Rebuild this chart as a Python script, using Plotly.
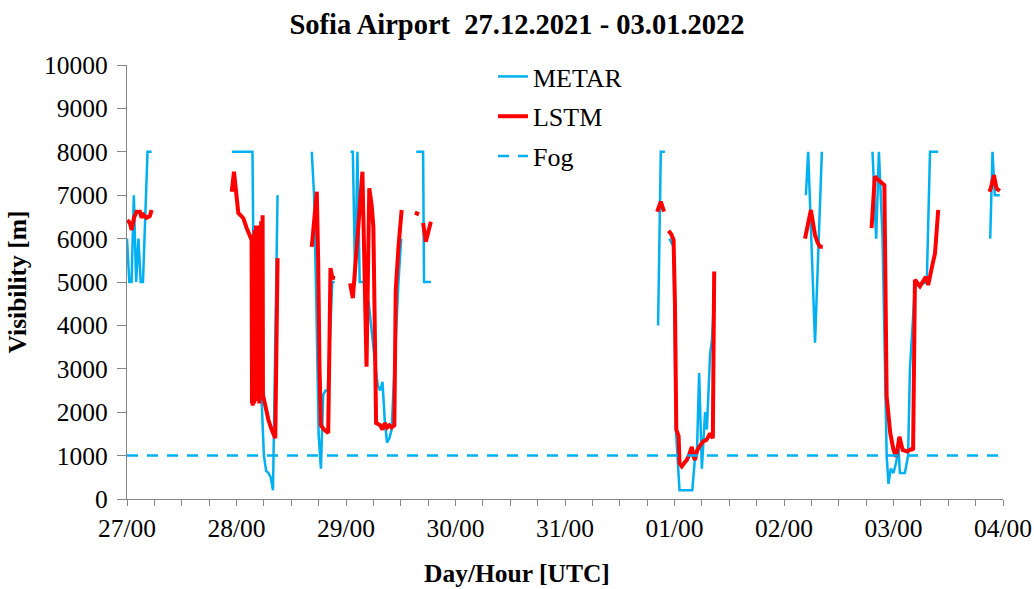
import plotly.graph_objects as go

# Time axis: hours since 27.12.2021 00 UTC
day_labels = ["27/00", "28/00", "29/00", "30/00", "31/00", "01/00", "02/00", "03/00", "04/00"]
day_ticks = [0, 24, 48, 72, 96, 120, 144, 168, 192]

# METAR observed visibility (m); None separates gaps in the record
metar_h = [
    0, 0.5, 1, 1.5, 2, 2.5, 3, 3.5, 4.5, 5.4, None,
    23, 27.5, 28, 29, 29.5, 30, 30.5, 31, 31.5, 32, 33, None,
    40.5, 41, 41.5, 42, 42.5, 43, 43.5, 44, 45, 45.5, None,
    49, 49.5, 50, 50.5, 51, 51.5, 52, 53, 53.5, 54, 54.5, 55, 55.5, 56, 56.5, 57, 57.5, 58, 59.5, 60.1, None,
    63.4, 64.9, 65.1, 66.6, None,
    116.4, 117, 117.9, None,
    118.9, 119.8, 120.3, 121.1, 123.9, 124.5, 124.9, 125.4, 126, 126.7, 127.1, 127.8, 128.2, 128.6, None,
    148.8, 149.3, 150.8, 152.3, None,
    163.4, 164.2, 164.8, 165.6, 166.5, 166.9, 167.4, 168, 168.6, 169.1, 169.4, 169.8, 170.5, 171.2, 171.6, 172.7, 175.3, 176, 177.8, None,
    189.2, 189.7, 190.2, 191.3,
]
metar_vis = [
    6000, 5000, 5000, 7000, 5000, 6000, 5000, 5000, 8000, 8000, None,
    8000, 8000, 2500, 2500, 2300, 1000, 650, 600, 500, 200, 7000, None,
    8000, 7000, 4500, 1500, 700, 2400, 2500, 2500, 5000, 5000, None,
    8000, 8000, 5000, 8000, 5000, 5000, 5000, 4500, 4000, 3500, 3000, 2600, 2500, 2700, 1800, 1300, 1400, 1600, 5000, 6000, None,
    8000, 8000, 5000, 5000, None,
    4000, 8000, 8000, None,
    6000, 5800, 1600, 200, 200, 950, 1000, 2900, 700, 2000, 1600, 3350, 3650, 4500, None,
    7000, 8000, 3600, 8000, None,
    8000, 6000, 8000, 6000, 1000, 350, 700, 600, 850, 1200, 600, 600, 600, 1000, 3000, 4900, 5000, 8000, 8000, None,
    6000, 8000, 7000, 7000,
]

# LSTM predicted visibility (m)
lstm_h = [
    0.07, 0.66, 1.03, 1.53, 2.1, 2.83, 3.2, 3.6, 4.3, 5.0, 5.4, None,
    22.95, 23.45, 24.4, 25.5, 26.2, 27.3,
    27.40, 27.48, 27.56, 27.64, 27.72, 27.80, 27.88, 27.96, 28.04, 28.12, 28.20,
    28.28, 28.36, 28.44, 28.52, 28.60, 28.68, 28.76, 28.84, 28.92, 29.00,
    29.08, 29.16, 29.24, 29.32, 29.40, 29.48, 29.56, 29.64, 29.72, 29.80,
    31.0, 31.7, 32.5, 33.0, None,
    40.5, 41.6, 41.9, 42.2, 42.5, 43.2, 44.1, 44.6, 45.0, 45.6, None,
    48.9, 49.5, 50.5, 51.6, 52.5, 53.1, 53.6, 54.0, 54.6, 55.5, 56.0, 56.5, 57.0, 57.5, 58.0, 58.6, 58.9, 59.5, 60.2, None,
    63.1, 64.0, None,
    64.9, 65.5, 66.6, None,
    116.2, 117.0, 117.7, None,
    118.7, 119.3, 119.8, 120.1, 120.4, 120.9, 121.1, 121.6, 122.3, 122.7, 123.3, 123.8, 124.1, 124.5, 124.9, 125.4, 126.3, 127.0, 127.8, 128.4, 128.7, None,
    148.6, 149.0, 149.9, 150.3, 150.8, 151.4, 151.9, 152.5, None,
    163.2, 163.9, 164.7, 166.0, 166.5, 167.3, 168.0, 168.6, 169.3, 170.0, 170.9, 172.0, 172.3, 172.7, 173.8, 175.1, 175.6, 176.6, 177.1, 177.8, None,
    189.0, 189.3, 190.0, 190.6, 191.3,
]
lstm_vis = [
    6430, 6350, 6200, 6480, 6620, 6620, 6480, 6550, 6480, 6520, 6660, None,
    7080, 7540, 6590, 6470, 6250, 5970,
    2200, 5900, 2150, 6000, 2300, 6100, 2200, 6200, 2400, 6000, 2250,
    6300, 2500, 5800, 2300, 6100, 2600, 5700, 2400, 6200, 2200,
    6300, 2500, 5900, 2300, 6400, 2600, 6000, 2400, 6540, 2400,
    1820, 1600, 1400, 5550, None,
    5810, 7080, 5500, 3000, 1700, 1600, 1520, 5320, 5100, 5090, None,
    4970, 4630, 6000, 7540, 3050, 7160, 6800, 6270, 1750, 1700, 1600, 1750, 1650, 1700, 1650, 1700, 4800, 5810, 6660, None,
    6600, 6560, None,
    6360, 5930, 6390, None,
    6620, 6850, 6620, None,
    6180, 6100, 5970, 4500, 1600, 1450, 820, 750, 850, 900, 1050, 1200, 1000, 900, 1100, 1200, 1330, 1360, 1510, 1400, 5240, None,
    6000, 6200, 6660, 6400, 6080, 5900, 5810, 5810, None,
    6240, 7430, 7350, 7230, 2360, 1510, 1130, 975, 1435, 1130, 1100, 1150, 1130, 5050, 4900, 5120, 4930, 5430, 5660, 6660, None,
    7080, 7150, 7460, 7150, 7100,
]

# Fog threshold (m)
fog_h = [0, 192]
fog_vis = [1000, 1000]

BLUE = "#00B0F0"
RED = "#FF0000"
AXIS = "#868686"
SERIF = "Liberation Serif, Times New Roman, serif"

fig = go.Figure()
fig.add_trace(go.Scatter(x=metar_h, y=metar_vis, mode="lines", name="METAR",
                         legendgroup="a", line=dict(color=BLUE, width=2.5, simplify=False),
                         connectgaps=False))
fig.add_trace(go.Scatter(x=lstm_h, y=lstm_vis, mode="lines", name="LSTM",
                         legendgroup="b", line=dict(color=RED, width=4, simplify=False),
                         connectgaps=False))
fig.add_trace(go.Scatter(x=fog_h, y=fog_vis, mode="lines", name="Fog",
                         legendgroup="c", line=dict(color=BLUE, width=2.5, dash="11px,9px")))

fig.update_layout(
    width=1034, height=589,
    margin=dict(l=127, r=31, t=65, b=90, autoexpand=False),
    paper_bgcolor="white", plot_bgcolor="white",
    font=dict(family=SERIF, size=25.5, color="black"),
    title=dict(text="<b>Sofia Airport  27.12.2021 - 03.01.2022</b>",
               x=0.5, xanchor="center", y=1 - 24 / 589, yanchor="middle",
               font=dict(family=SERIF, size=28.5, color="black")),
    showlegend=True,
    legend=dict(x=0.4178, y=1.0276, xanchor="left", yanchor="top",
                bgcolor="rgba(0,0,0,0)", tracegroupgap=3,
                font=dict(family=SERIF, size=26, color="black")),
    xaxis=dict(range=[0, 192], tickmode="array", tickvals=day_ticks, ticktext=day_labels,
               automargin=False,
               showgrid=False, zeroline=False, showline=True, linecolor=AXIS, linewidth=1.3,
               ticks="outside", ticklen=6, tickcolor=AXIS, tickwidth=1.3,
               minor=dict(dtick=6, tick0=0, ticks="outside", ticklen=6, tickcolor=AXIS, tickwidth=1.3, showgrid=False),
               tickfont=dict(family=SERIF, size=25.5, color="black")),
    yaxis=dict(range=[0, 10000], dtick=1000, tick0=0, tickformat="d",
               automargin=False, ticklabelstandoff=4,
               showgrid=False, zeroline=False, showline=True, linecolor=AXIS, linewidth=1.3,
               ticks="outside", ticklen=9, tickcolor=AXIS, tickwidth=1.3,
               tickfont=dict(family=SERIF, size=25.5, color="black"),
               title=dict(text="<b>Visibility [m]</b>", standoff=10,
                          font=dict(family=SERIF, size=25.5, color="black"))),
    annotations=[dict(text="<b>Day/Hour [UTC]</b>", xref="paper", yref="paper",
                      x=(517 - 127) / 876, y=(499 - 573) / 434,
                      xanchor="center", yanchor="middle", showarrow=False,
                      font=dict(family=SERIF, size=25.5, color="black"))],
)

fig.write_html("out.html")
